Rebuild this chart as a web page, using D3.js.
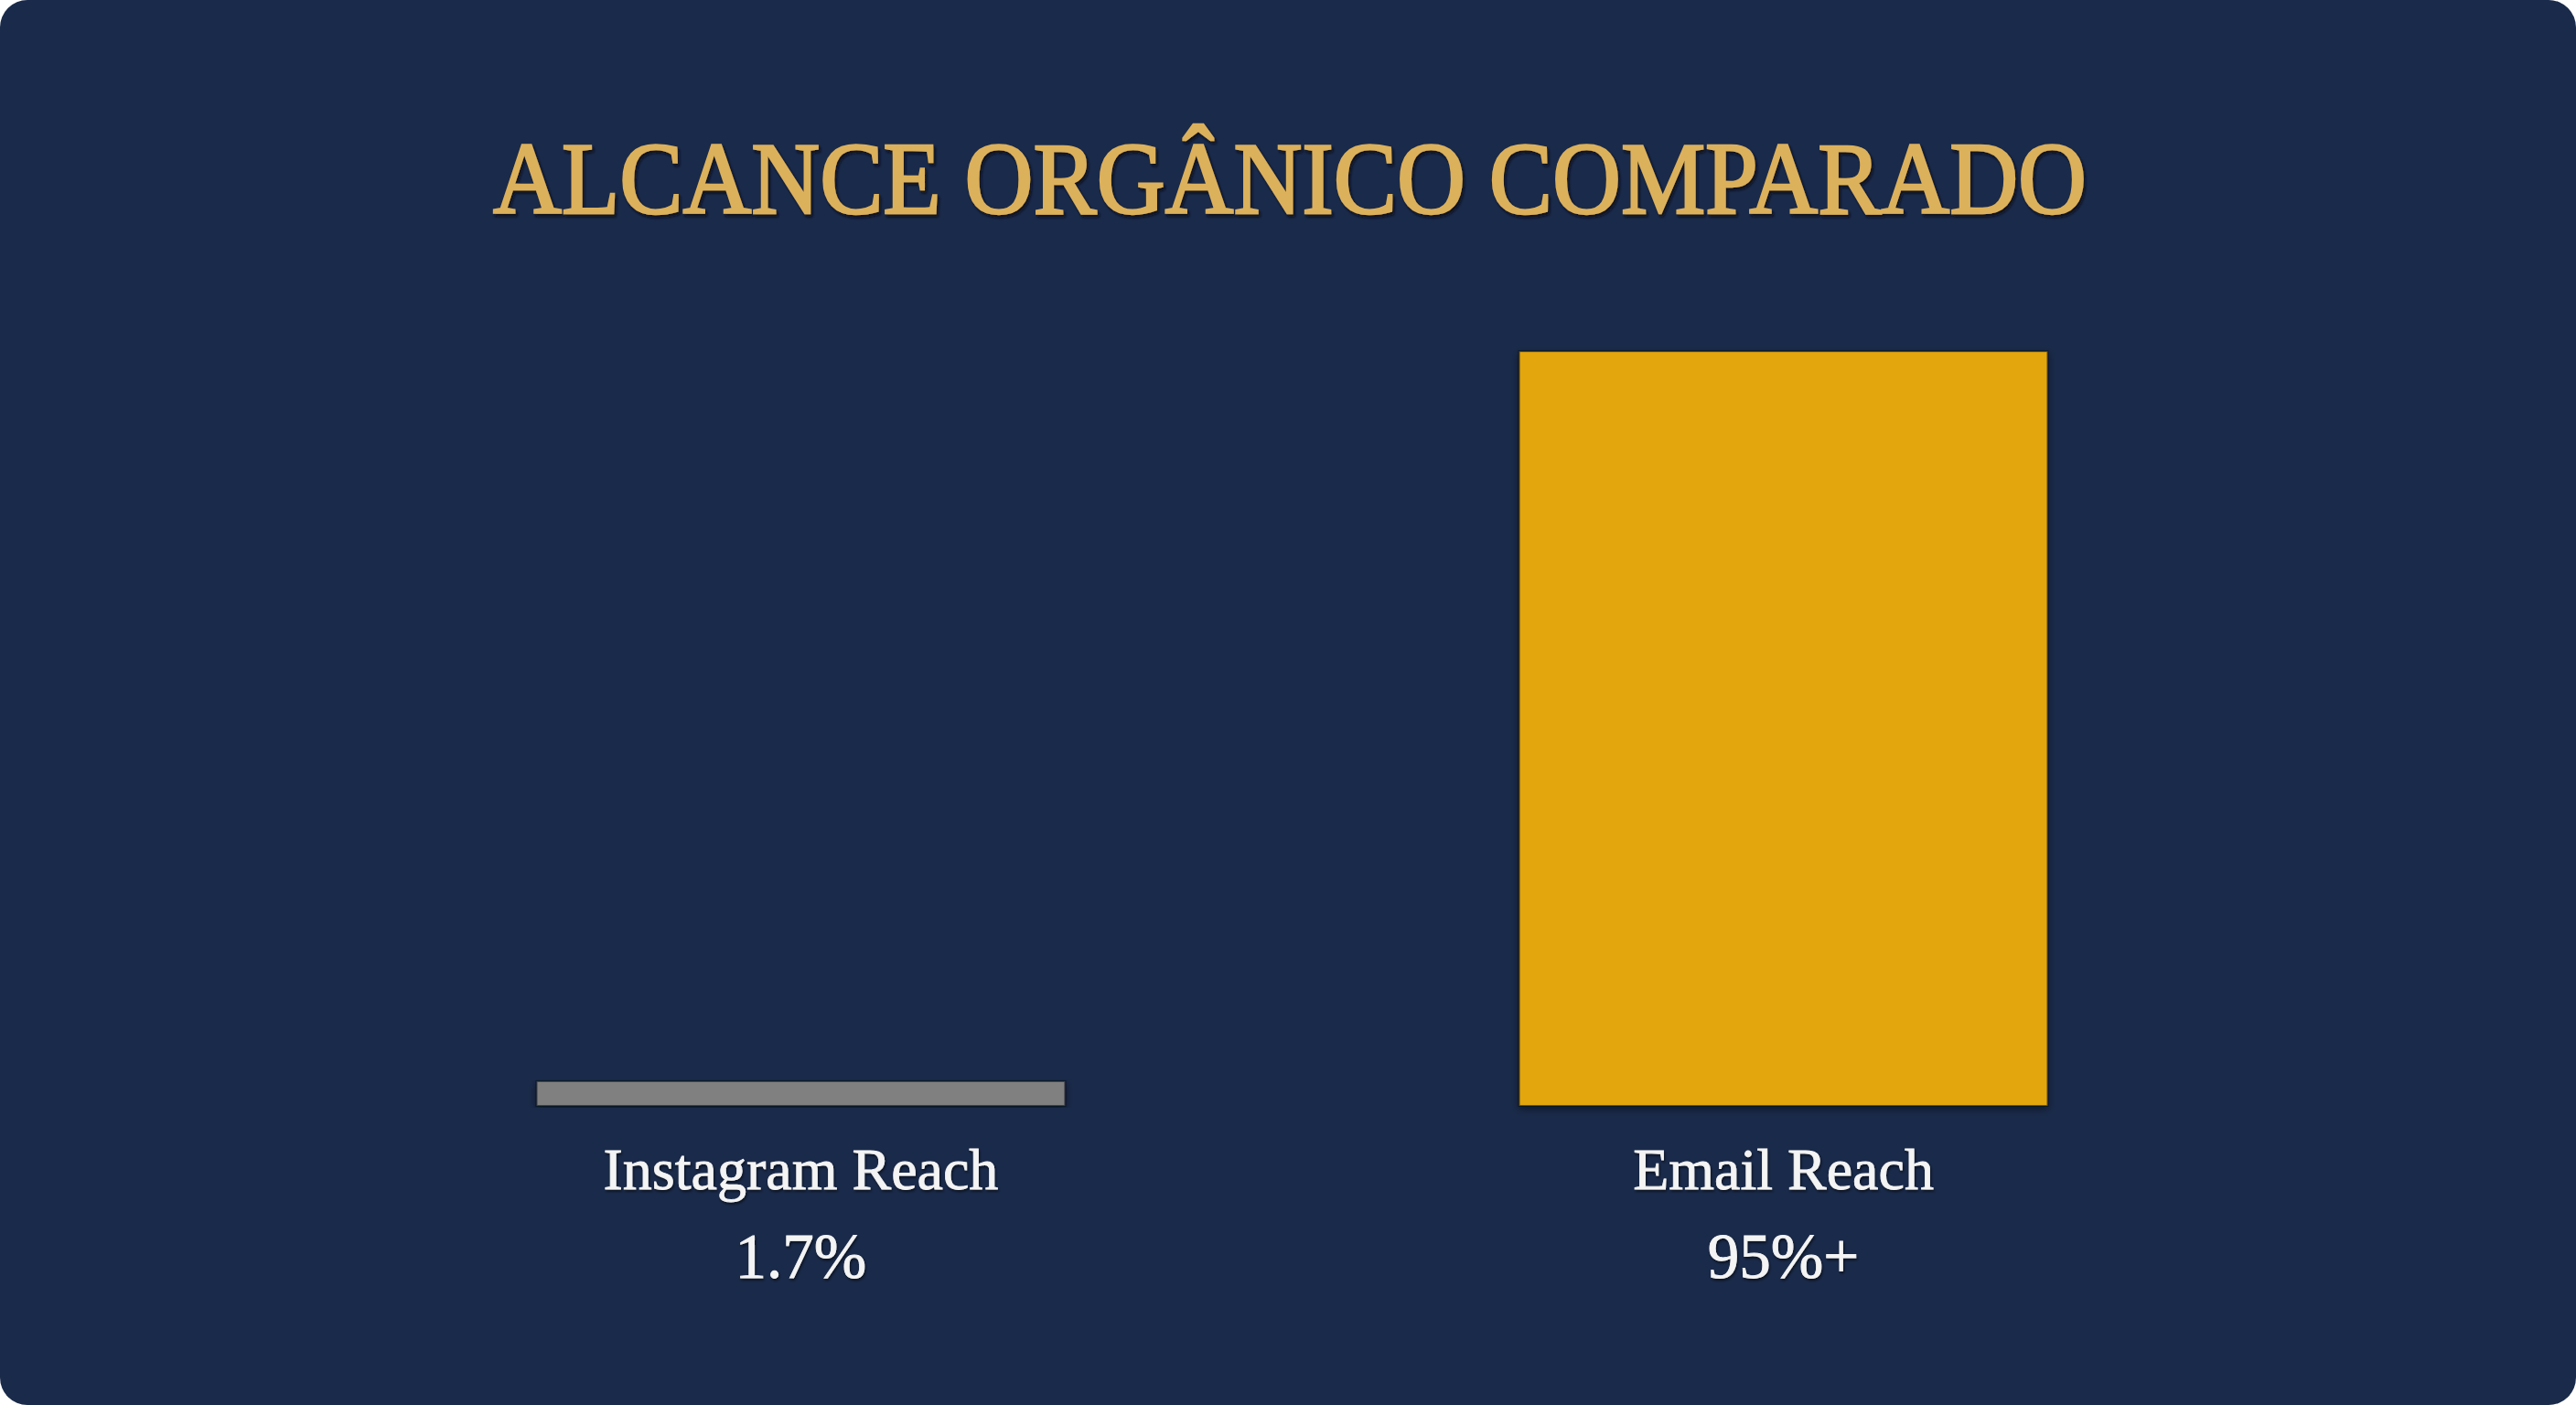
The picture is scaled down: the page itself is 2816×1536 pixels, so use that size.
<!DOCTYPE html>
<html>
<head>
<meta charset="utf-8">
<script src="https://cdn.jsdelivr.net/npm/d3@7"></script>
<style>
  html, body { margin: 0; padding: 0; background: #ffffff; }
  svg { display: block; }
</style>
</head>
<body>
<div class="board"></div>
<script>
// chart data
const categories = ['Instagram Reach', 'Email Reach'];
const values = [1.7, 95];
const valueLabels = ['1.7%', '95%+'];
const barColors = ['#808080', '#e3a60e'];
const title = 'ALCANCE ORGÂNICO COMPARADO';

const W = 2816, H = 1536;

const svg = d3.select('.board').append('svg')
    .attr('width', W)
    .attr('height', H);

const defs = svg.append('defs');

// soft shadow for the bars
const shadow = defs.append('filter').attr('id', 'barShadow')
    .attr('x', '-5%').attr('y', '-5%').attr('width', '110%').attr('height', '110%');
shadow.append('feDropShadow')
    .attr('dx', 0).attr('dy', 3).attr('stdDeviation', 4)
    .attr('flood-color', '#000').attr('flood-opacity', 0.45);

// dark edge behind the title letters
const tshadow = defs.append('filter').attr('id', 'titleShadow')
    .attr('x', '-5%').attr('y', '-20%').attr('width', '110%').attr('height', '140%');
tshadow.append('feDropShadow')
    .attr('dx', 2).attr('dy', 3).attr('stdDeviation', 1.5)
    .attr('flood-color', '#0a0c12').attr('flood-opacity', 0.9);

const lshadow = defs.append('filter').attr('id', 'labelShadow');
lshadow.append('feDropShadow')
    .attr('dx', 1).attr('dy', 2).attr('stdDeviation', 1.5)
    .attr('flood-color', '#000').attr('flood-opacity', 0.6);

// background panel
svg.append('rect')
    .attr('x', 0).attr('y', 0)
    .attr('width', W).attr('height', H)
    .attr('rx', 30).attr('ry', 30)
    .attr('fill', '#1a2a4a');

// title
svg.append('text')
    .text(title)
    .attr('x', 1410)
    .attr('y', 233)
    .attr('text-anchor', 'middle')
    .attr('font-family', 'Liberation Serif, serif')
    .attr('font-size', 112)
    .attr('textLength', 1742)
    .attr('lengthAdjust', 'spacingAndGlyphs')
    .attr('fill', '#dcb15c')
    .attr('stroke', '#dcb15c')
    .attr('stroke-width', 2.5)
    .attr('filter', 'url(#titleShadow)');

// scales
const x = d3.scaleBand()
    .domain(categories)
    .range([318, 2507])
    .paddingInner(0.462)
    .paddingOuter(0.25);

const y = d3.scaleLinear()
    .domain([0, 95])
    .range([1209, 384]);

const minBar = 27;

// bars
svg.selectAll('rect.bar')
    .data(values)
    .enter()
    .append('rect')
    .attr('class', 'bar')
    .attr('x', (d, i) => x(categories[i]))
    .attr('width', x.bandwidth())
    .attr('y', d => Math.min(y(d), y(0) - minBar))
    .attr('height', d => Math.max(y(0) - y(d), minBar))
    .attr('fill', (d, i) => barColors[i])
    .attr('stroke', 'rgba(10,14,24,0.55)')
    .attr('stroke-width', 2)
    .attr('filter', 'url(#barShadow)');

// category labels
svg.selectAll('text.cat')
    .data(categories)
    .enter()
    .append('text')
    .attr('class', 'cat')
    .text(d => d)
    .attr('x', d => x(d) + x.bandwidth() / 2)
    .attr('y', 1300)
    .attr('text-anchor', 'middle')
    .attr('font-family', 'Liberation Serif, serif')
    .attr('font-size', 64)
    .attr('fill', '#f4f4f4')
    .attr('stroke', '#f4f4f4')
    .attr('stroke-width', 0.8)
    .attr('filter', 'url(#labelShadow)');

// value labels
svg.selectAll('text.val')
    .data(valueLabels)
    .enter()
    .append('text')
    .attr('class', 'val')
    .text(d => d)
    .attr('x', (d, i) => x(categories[i]) + x.bandwidth() / 2)
    .attr('y', 1397)
    .attr('text-anchor', 'middle')
    .attr('font-family', 'Liberation Serif, serif')
    .attr('font-size', 69)
    .attr('fill', '#f4f4f4')
    .attr('stroke', '#f4f4f4')
    .attr('stroke-width', 0.8)
    .attr('filter', 'url(#labelShadow)');
</script>
</body>
</html>
